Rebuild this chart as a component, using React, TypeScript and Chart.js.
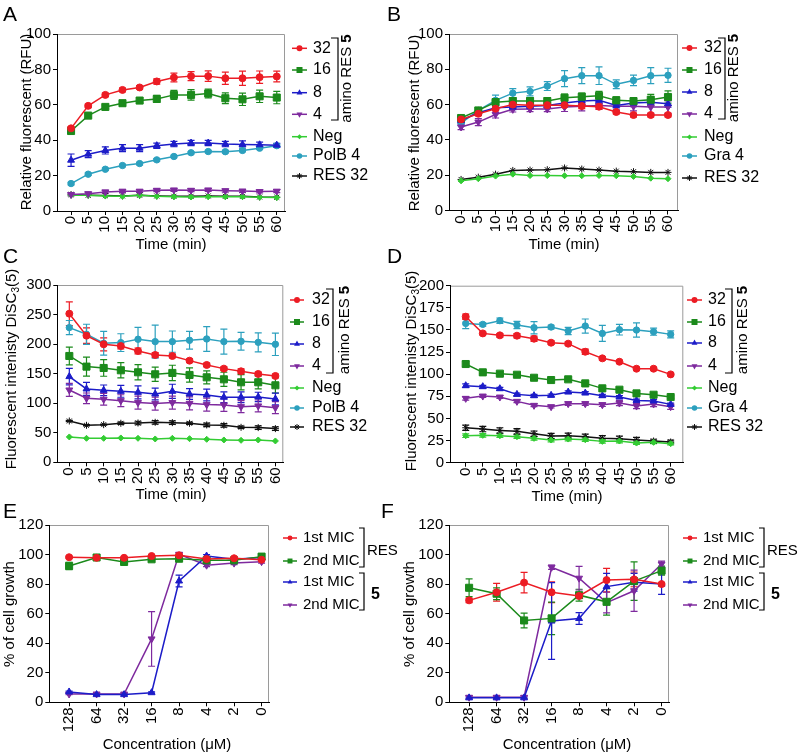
import React, { useEffect, useRef } from "react";
import { Chart, registerables } from "chart.js";

Chart.register(...registerables);

const FONT = "'Liberation Sans', Arial, Helvetica, sans-serif";

// ---------- shared axes ----------
const TIME = [0, 5, 10, 15, 20, 25, 30, 35, 40, 45, 50, 55, 60];
const CONC_LABELS = ["128", "64", "32", "16", "8", "4", "2", "0"];
const CONC_IDX = [0, 1, 2, 3, 4, 5, 6, 7];

// ---------- panel A ----------
const A_32 = [46.7, 59.4, 65.6, 68.4, 69.8, 73.2, 75.4, 76.2, 76.2, 75.0, 75.0, 75.6, 76.0];
const A_32_ERR = [1, 1, 1, 1, 1, 1.5, 2.5, 2.5, 3, 3.5, 4, 3.5, 3];
const A_16 = [45.2, 53.9, 58.8, 60.9, 62.4, 63.3, 65.6, 65.6, 66.4, 63.7, 63.1, 64.8, 64.1];
const A_16_ERR = [1, 1, 1, 1.5, 1.5, 2, 2.5, 3, 2.5, 3, 3.5, 3.5, 3.5];
const A_8 = [28.7, 32.1, 34.2, 35.5, 35.5, 36.9, 37.8, 38.4, 38.4, 37.8, 37.6, 37.4, 37.2];
const A_8_ERR = [3.5, 2, 2, 2, 2, 1.5, 1.5, 1.5, 1.5, 1.5, 2, 1.5, 1];
const A_4 = [9.3, 9.8, 10.8, 11.2, 11.2, 11.7, 11.9, 11.7, 11.9, 11.5, 11.3, 11.0, 11.2];
const A_4_ERR = [0.8, 0.8, 0.8, 0.8, 0.8, 0.8, 0.8, 0.8, 0.8, 0.8, 0.8, 0.8, 0.8];
const A_NEG = [8.9, 8.9, 8.5, 8.3, 8.9, 8.3, 8.1, 7.9, 8.1, 8.1, 8.1, 7.8, 7.6];
const A_POLB = [15.5, 20.8, 23.6, 25.7, 26.8, 28.9, 30.8, 32.9, 33.6, 33.5, 34.2, 35.5, 36.9];
const A_POLB_ERR = [0.7, 0.7, 0.7, 0.7, 0.7, 0.7, 0.7, 0.7, 0.7, 0.7, 0.7, 0.7, 0.7];
const A_RES = [9.3, 8.9, 8.7, 8.5, 8.9, 8.5, 8.3, 8.3, 8.5, 8.3, 8.3, 7.9, 7.8];

// ---------- panel B ----------
const B_32 = [51.6, 54.8, 57.7, 60.0, 59.7, 59.7, 59.7, 59.2, 58.8, 55.8, 54.1, 54.1, 54.1];
const B_32_ERR = [1, 1, 1, 1, 1, 1, 1, 1.5, 1.5, 1, 1, 1, 1];
const B_16 = [52.4, 56.7, 61.4, 62.0, 62.0, 62.0, 63.9, 64.5, 65.0, 62.4, 62.0, 62.8, 64.3];
const B_16_ERR = [1, 1.5, 2, 2, 2, 2, 2, 2, 2.5, 2, 2, 3, 3.5];
const B_8 = [51.0, 55.4, 58.2, 58.6, 59.0, 59.5, 60.9, 62.0, 62.4, 59.5, 60.9, 61.4, 60.5];
const B_8_ERR = [1.5, 1.5, 1.5, 1.5, 1.5, 1.5, 2, 2, 2, 2, 2, 2, 2];
const B_4 = [47.3, 50.1, 54.4, 57.3, 57.5, 57.5, 58.6, 59.0, 59.5, 59.0, 59.0, 58.6, 58.6];
const B_4_ERR = [1.5, 2, 2, 1.5, 1.5, 1.5, 2.5, 2.5, 2, 2.5, 2.5, 3.5, 3.5];
const B_NEG = [16.8, 18.0, 19.5, 20.6, 19.8, 19.8, 19.7, 19.7, 19.8, 19.7, 19.3, 18.3, 18.0];
const B_GRA = [49.5, 56.7, 62.4, 66.5, 67.5, 70.5, 74.7, 76.4, 76.4, 71.5, 73.7, 76.4, 76.6];
const B_GRA_ERR = [1.5, 1.5, 3, 2.5, 2.5, 2.5, 4.5, 4.5, 5, 2.5, 3, 4.5, 4];
const B_RES = [17.6, 18.9, 20.6, 22.7, 22.9, 23.1, 24.1, 23.5, 22.9, 22.3, 22.0, 21.6, 21.6];

// ---------- panel C ----------
const C_32 = [251.5, 214.3, 199.7, 196.8, 188.4, 181.6, 179.9, 172.0, 164.7, 158.5, 154.0, 149.5, 146.1];
const C_32_ERR = [20, 13, 11, 5, 5, 4, 3, 3, 3, 3, 4, 3, 3];
const C_16 = [179.9, 161.9, 159.6, 155.7, 152.3, 148.9, 151.2, 147.8, 143.8, 140.4, 135.4, 135.4, 130.3];
const C_16_ERR = [15, 16, 14, 13, 13, 12, 13, 12, 11, 12, 13, 11, 13];
const C_8 = [145.0, 124.1, 121.8, 120.1, 118.4, 115.6, 120.1, 115.6, 113.9, 110.0, 110.0, 110.5, 107.2];
const C_8_ERR = [14, 11, 9, 10, 11, 10, 12, 9, 10, 9, 9, 8, 10];
const C_4 = [122.4, 108.3, 106.6, 104.3, 101.0, 99.3, 101.0, 99.8, 97.6, 97.1, 94.2, 95.4, 92.5];
const C_4_ERR = [11, 9, 10, 10, 11, 11, 11, 11, 11, 11, 10, 10, 10];
const C_NEG = [42.9, 40.6, 40.6, 41.2, 40.6, 39.5, 40.6, 40.0, 38.9, 37.8, 37.2, 37.8, 36.1];
const C_POLB = [227.9, 216.6, 201.4, 202.5, 208.2, 204.2, 204.2, 206.4, 208.7, 204.2, 204.7, 203.0, 199.7];
const C_POLB_ERR = [12, 17, 20, 15, 20, 28, 18, 15, 21, 21, 15, 16, 19];
const C_RES = [69.9, 62.6, 63.7, 66.0, 66.5, 67.7, 67.1, 66.0, 63.2, 62.6, 59.2, 58.7, 57.0];
const C_RES_ERR = [1, 1, 1, 2, 3, 3, 3, 2, 3, 3, 2, 3, 3];

// ---------- panel D ----------
const D_32 = [165.0, 146.1, 143.9, 143.5, 140.1, 135.6, 134.5, 125.4, 117.9, 114.1, 106.2, 106.2, 99.8];
const D_32_ERR = [3, 1.5, 2, 2.5, 3, 2, 2, 3, 2, 1.5, 1.5, 1.5, 1.5];
const D_16 = [111.5, 102.1, 100.6, 99.4, 96.0, 93.4, 94.2, 89.6, 84.0, 82.5, 78.3, 76.8, 74.2];
const D_16_ERR = [3, 1.5, 1.5, 1.5, 1.5, 1.5, 1.5, 1.5, 1.5, 1.5, 1.5, 1.5, 1.5];
const D_8 = [87.0, 85.9, 83.6, 77.2, 75.7, 76.1, 79.8, 78.7, 75.7, 74.2, 70.4, 69.7, 65.9];
const D_8_ERR = [2, 1.5, 1.5, 1.5, 1.5, 1.5, 1.5, 1.5, 1.5, 1.5, 1.5, 1.5, 1.5];
const D_4 = [72.7, 75.3, 74.2, 69.3, 64.8, 63.3, 66.7, 66.7, 65.5, 67.4, 64.0, 66.3, 63.3];
const D_4_ERR = [2, 1.5, 1.5, 1.5, 1.5, 1.5, 2, 2, 2, 3, 3, 3, 3];
const D_NEG = [30.5, 30.9, 30.5, 29.4, 27.5, 25.6, 26.7, 26.0, 24.1, 24.5, 22.2, 23.0, 21.5];
const D_NEG_ERR = [2, 2, 2, 2, 2, 2, 2, 2, 2, 2, 1.5, 1.5, 1.5];
const D_GRA = [157.4, 156.3, 160.5, 155.6, 152.5, 153.3, 148.8, 154.4, 146.1, 150.3, 149.9, 148.0, 145.0];
const D_GRA_ERR = [6, 2, 3, 4, 7, 2, 4, 8, 9, 6, 8, 4, 4];
const D_RES = [39.5, 38.0, 36.5, 35.4, 32.8, 30.1, 30.5, 29.4, 27.5, 27.1, 25.6, 24.5, 23.4];
const D_RES_ERR = [3, 3, 3, 3, 3, 3, 3, 3, 3, 3, 3, 2, 2];

// ---------- panel E ----------
const E_RES1 = [98.2, 97.8, 97.8, 99.0, 99.5, 97.0, 97.5, 96.5];
const E_RES1_ERR = [0.8, 0.8, 0.8, 0.8, 0.8, 0.8, 0.8, 0.8];
const E_RES2 = [92.3, 98.0, 95.0, 96.8, 97.2, 96.1, 96.1, 98.6];
const E_RES2_ERR = [2.5, 1, 1, 1, 1, 1, 1, 1];
const E_C1 = [7.0, 5.2, 5.2, 6.5, 82.1, 99.0, 96.8, 98.0];
const E_C1_ERR = [0.5, 0.5, 0.5, 0.5, 4, 1, 1, 1];
const E_C2 = [5.6, 5.6, 5.6, 42.9, 100.2, 92.8, 94.2, 95.2];
const E_C2_ERR = [0.5, 0.5, 0.5, 18.5, 1, 1, 1, 1];

// ---------- panel F ----------
const F_RES1 = [69.0, 74.5, 81.0, 74.5, 72.0, 82.7, 83.2, 80.0];
const F_RES1_ERR = [1.5, 6, 7, 7, 1.5, 8, 5, 1];
const F_RES2 = [77.5, 73.5, 55.4, 56.8, 72.5, 68.0, 82.0, 89.1];
const F_RES2_ERR = [6, 4, 5, 11, 4, 9, 13, 3];
const F_C1 = [3.0, 3.0, 3.0, 55.0, 56.7, 78.3, 81.2, 80.0];
const F_C1_ERR = [0.5, 0.5, 0.5, 26, 4, 9, 6, 7];
const F_C2 = [3.4, 3.4, 3.4, 91.4, 84.0, 67.5, 75.5, 93.6];
const F_C2_ERR = [1, 1, 1, 1.5, 8, 7, 14, 2];

// ---------- styles ----------
const RED = "#ec1c24";
const GREEN = "#1b8a1b";
const BLUE = "#1c1cc8";
const PURPLE = "#7e2a9e";
const LGREEN = "#33cc33";
const TEAL = "#2ca0be";
const BLACK = "#111111";

type Series = {
  label: string;
  values: number[];
  err?: number[];
  color: string;
  style: string;
  radius: number;
  rotation?: number;
};

const S32 = (v: number[], e?: number[]): Series => ({ label: "32", values: v, err: e, color: RED, style: "circle", radius: 3.5 });
const S16 = (v: number[], e?: number[]): Series => ({ label: "16", values: v, err: e, color: GREEN, style: "rect", radius: 5 });
const S8 = (v: number[], e?: number[]): Series => ({ label: "8", values: v, err: e, color: BLUE, style: "triangle", radius: 4 });
const S4 = (v: number[], e?: number[]): Series => ({ label: "4", values: v, err: e, color: PURPLE, style: "triangle", radius: 4, rotation: 180 });
const SNEG = (v: number[], e?: number[]): Series => ({ label: "Neg", values: v, err: e, color: LGREEN, style: "rectRot", radius: 3 });
const SCTRL = (name: string, v: number[], e?: number[]): Series => ({ label: name, values: v, err: e, color: TEAL, style: "circle", radius: 3.2 });
const SRES = (v: number[], e?: number[]): Series => ({ label: "RES 32", values: v, err: e, color: BLACK, style: "star", radius: 3.5 });

type Part = { s: string; size: number; bold?: boolean; dy?: number };

type Panel = {
  plot: [number, number, number, number];
  xs: number[];
  xMin: number;
  xMax: number;
  xLabels?: string[];
  yMin: number;
  yMax: number;
  yStep: number;
  series: Series[];
  letter: [string, number, number];
  yTitle: [Part[], number, number];
  xTitle: [string, number, number];
  legendRows: number[];
  legendX: [number, number, number];
  legendSize: number;
  legendMarkerScale: number;
  decor: (ctx: CanvasRenderingContext2D) => void;
};

function drawMarker(ctx: CanvasRenderingContext2D, style: string, x: number, y: number, r: number, color: string, rotation = 0) {
  ctx.save();
  ctx.fillStyle = color;
  ctx.strokeStyle = color;
  ctx.lineWidth = 1;
  ctx.beginPath();
  if (style === "circle") {
    ctx.arc(x, y, r, 0, Math.PI * 2);
    ctx.fill();
  } else if (style === "rect") {
    const s = r * Math.SQRT1_2;
    ctx.rect(x - s, y - s, 2 * s, 2 * s);
    ctx.fill();
  } else if (style === "triangle") {
    let a = (rotation * Math.PI) / 180;
    ctx.moveTo(x + Math.sin(a) * r, y - Math.cos(a) * r);
    a += (2 * Math.PI) / 3;
    ctx.lineTo(x + Math.sin(a) * r, y - Math.cos(a) * r);
    a += (2 * Math.PI) / 3;
    ctx.lineTo(x + Math.sin(a) * r, y - Math.cos(a) * r);
    ctx.closePath();
    ctx.fill();
  } else if (style === "rectRot") {
    ctx.moveTo(x, y - r);
    ctx.lineTo(x + r, y);
    ctx.lineTo(x, y + r);
    ctx.lineTo(x - r, y);
    ctx.closePath();
    ctx.fill();
  } else if (style === "star") {
    const d = r * Math.SQRT1_2;
    ctx.moveTo(x - r, y);
    ctx.lineTo(x + r, y);
    ctx.moveTo(x, y - r);
    ctx.lineTo(x, y + r);
    ctx.moveTo(x - d, y - d);
    ctx.lineTo(x + d, y + d);
    ctx.moveTo(x - d, y + d);
    ctx.lineTo(x + d, y - d);
    ctx.stroke();
  }
  ctx.restore();
}

function font(size: number, bold = false) {
  return `${bold ? "bold " : ""}${size}px ${FONT}`;
}

function hText(ctx: CanvasRenderingContext2D, s: string, x: number, y: number, size: number, align: CanvasTextAlign = "center", bold = false) {
  ctx.save();
  ctx.fillStyle = "#000";
  ctx.font = font(size, bold);
  ctx.textAlign = align;
  ctx.textBaseline = "middle";
  ctx.fillText(s, x, y);
  ctx.restore();
}

function vText(ctx: CanvasRenderingContext2D, parts: Part[], cx: number, cy: number) {
  ctx.save();
  ctx.fillStyle = "#000";
  ctx.translate(cx, cy);
  ctx.rotate(-Math.PI / 2);
  ctx.textBaseline = "middle";
  ctx.textAlign = "left";
  let total = 0;
  const widths = parts.map((p) => {
    ctx.font = font(p.size, p.bold);
    const w = ctx.measureText(p.s).width;
    total += w;
    return w;
  });
  let x = -total / 2;
  parts.forEach((p, i) => {
    ctx.font = font(p.size, p.bold);
    ctx.fillText(p.s, x, p.dy || 0);
    x += widths[i];
  });
  ctx.restore();
}

function bracket(ctx: CanvasRenderingContext2D, x: number, y1: number, y2: number, tick: number) {
  ctx.save();
  ctx.strokeStyle = "#000";
  ctx.lineWidth = 1.2;
  ctx.beginPath();
  ctx.moveTo(x - tick, y1);
  ctx.lineTo(x, y1);
  ctx.lineTo(x, y2);
  ctx.lineTo(x - tick, y2);
  ctx.stroke();
  ctx.restore();
}

const AMINO: Part[] = [
  { s: "amino RES ", size: 15 },
  { s: "5", size: 15, bold: true },
];
const RFU: Part[] = [{ s: "Relative fluorescent (RFU)", size: 15 }];
const DISC: Part[] = [
  { s: "Fluorescent intenisty DiSC", size: 15 },
  { s: "3", size: 10, dy: 4 },
  { s: "(5)", size: 15 },
];
const GROWTH: Part[] = [{ s: "% of cell growth", size: 15 }];

const PANELS: Panel[] = [
  {
    plot: [57, 34, 285, 211],
    xs: TIME, xMin: -4.1, xMax: 62.4,
    yMin: 0, yMax: 100, yStep: 20,
    series: [S32(A_32, A_32_ERR), S16(A_16, A_16_ERR), S8(A_8, A_8_ERR), S4(A_4, A_4_ERR), SNEG(A_NEG), SCTRL("PolB 4", A_POLB, A_POLB_ERR), SRES(A_RES)],
    letter: ["A", 3, 15], yTitle: [RFU, 27, 122], xTitle: ["Time (min)", 171, 245],
    legendRows: [48.3, 70, 92.7, 114.3, 136.7, 156, 176], legendX: [292, 307, 313], legendSize: 16, legendMarkerScale: 0.85,
    decor: (ctx) => { bracket(ctx, 338, 38, 120, 7); vText(ctx, AMINO, 347, 78.5); },
  },
  {
    plot: [449, 34, 678, 210.5],
    xs: TIME, xMin: -3.5, xMax: 62.9,
    yMin: 0, yMax: 100, yStep: 20,
    series: [S32(B_32, B_32_ERR), S16(B_16, B_16_ERR), S8(B_8, B_8_ERR), S4(B_4, B_4_ERR), SNEG(B_NEG), SCTRL("Gra 4", B_GRA, B_GRA_ERR), SRES(B_RES)],
    letter: ["B", 387, 15], yTitle: [RFU, 415, 123], xTitle: ["Time (min)", 564, 245],
    legendRows: [48, 70, 92, 114, 137, 156, 178], legendX: [682, 697, 704], legendSize: 16, legendMarkerScale: 0.85,
    decor: (ctx) => { bracket(ctx, 725, 38, 119, 7); vText(ctx, AMINO, 734, 78); },
  },
  {
    plot: [57.3, 285, 283.3, 462.3],
    xs: TIME, xMin: -3.5, xMax: 62.3,
    yMin: 0, yMax: 300, yStep: 50,
    series: [S32(C_32, C_32_ERR), S16(C_16, C_16_ERR), S8(C_8, C_8_ERR), S4(C_4, C_4_ERR), SNEG(C_NEG), SCTRL("PolB 4", C_POLB, C_POLB_ERR), SRES(C_RES, C_RES_ERR)],
    letter: ["C", 3, 257], yTitle: [DISC, 12, 369], xTitle: ["Time (min)", 171, 495],
    legendRows: [300, 322, 344, 366, 388, 408, 427], legendX: [290, 304, 312], legendSize: 16, legendMarkerScale: 0.85,
    decor: (ctx) => { bracket(ctx, 333, 289, 373, 7); vText(ctx, AMINO, 345, 330); },
  },
  {
    plot: [450, 285.7, 683.3, 462.7],
    xs: TIME, xMin: -4.6, xMax: 63.7,
    yMin: 0, yMax: 200, yStep: 25,
    series: [S32(D_32, D_32_ERR), S16(D_16, D_16_ERR), S8(D_8, D_8_ERR), S4(D_4, D_4_ERR), SNEG(D_NEG, D_NEG_ERR), SCTRL("Gra 4", D_GRA, D_GRA_ERR), SRES(D_RES, D_RES_ERR)],
    letter: ["D", 387, 257], yTitle: [DISC, 412, 371], xTitle: ["Time (min)", 567, 497],
    legendRows: [300, 322, 343, 366, 388, 408, 427], legendX: [687, 702, 708], legendSize: 16, legendMarkerScale: 0.85,
    decor: (ctx) => { bracket(ctx, 732, 289, 373, 7); vText(ctx, AMINO, 743, 330); },
  },
  {
    plot: [49.3, 525, 269, 702.3],
    xs: CONC_IDX, xMin: -0.72, xMax: 7.27, xLabels: CONC_LABELS,
    yMin: 0, yMax: 120, yStep: 20,
    series: [
      { label: "1st MIC", values: E_RES1, err: E_RES1_ERR, color: RED, style: "circle", radius: 3.5 },
      { label: "2nd MIC", values: E_RES2, err: E_RES2_ERR, color: GREEN, style: "rect", radius: 5 },
      { label: "1st MIC", values: E_C1, err: E_C1_ERR, color: BLUE, style: "triangle", radius: 4 },
      { label: "2nd MIC", values: E_C2, err: E_C2_ERR, color: PURPLE, style: "triangle", radius: 4, rotation: 180 },
    ],
    letter: ["E", 3, 512], yTitle: [GROWTH, 10, 614], xTitle: ["Concentration (\u03bcM)", 167, 745],
    legendRows: [538, 561, 582, 605], legendX: [283, 297, 303], legendSize: 15, legendMarkerScale: 0.7,
    decor: (ctx) => {
      bracket(ctx, 364, 528, 567, 5);
      bracket(ctx, 364, 573, 610, 5);
      hText(ctx, "RES", 367, 551, 15, "left");
      hText(ctx, "5", 371, 595, 16, "left", true);
    },
  },
  {
    plot: [449.3, 525, 669, 702.3],
    xs: CONC_IDX, xMin: -0.72, xMax: 7.27, xLabels: CONC_LABELS,
    yMin: 0, yMax: 120, yStep: 20,
    series: [
      { label: "1st MIC", values: F_RES1, err: F_RES1_ERR, color: RED, style: "circle", radius: 3.5 },
      { label: "2nd MIC", values: F_RES2, err: F_RES2_ERR, color: GREEN, style: "rect", radius: 5 },
      { label: "1st MIC", values: F_C1, err: F_C1_ERR, color: BLUE, style: "triangle", radius: 4 },
      { label: "2nd MIC", values: F_C2, err: F_C2_ERR, color: PURPLE, style: "triangle", radius: 4, rotation: 180 },
    ],
    letter: ["F", 381, 512], yTitle: [GROWTH, 410, 614], xTitle: ["Concentration (\u03bcM)", 567, 745],
    legendRows: [538, 561, 582, 605], legendX: [683, 697, 703], legendSize: 15, legendMarkerScale: 0.7,
    decor: (ctx) => {
      bracket(ctx, 764, 528, 567, 5);
      bracket(ctx, 764, 573, 610, 5);
      hText(ctx, "RES", 767, 551, 15, "left");
      hText(ctx, "5", 771, 595, 16, "left", true);
    },
  },
];

const YW = 40;
const XH = 30;

function buildChart(canvas: HTMLCanvasElement, p: Panel) {
  const [l, t, r, b] = p.plot;
  const datasets = p.series.map((s) => ({
    label: s.label,
    data: p.xs.map((x, i) => ({ x, y: s.values[i] })),
    borderColor: s.color,
    backgroundColor: s.color,
    pointBackgroundColor: s.color,
    pointBorderColor: s.color,
    borderWidth: 1.5,
    pointRadius: s.radius,
    pointStyle: s.style,
    pointRotation: s.rotation || 0,
    pointBorderWidth: 1,
    tension: 0,
    err: s.err,
  }));

  const errPlugin = {
    id: "errbars",
    beforeDatasetsDraw(chart: any) {
      const ctx = chart.ctx;
      const ys = chart.scales.y;
      chart.data.datasets.forEach((ds: any, di: number) => {
        if (!ds.err) return;
        const meta = chart.getDatasetMeta(di);
        ctx.save();
        ctx.strokeStyle = ds.borderColor;
        ctx.lineWidth = 1.2;
        meta.data.forEach((el: any, i: number) => {
          const v = ds.data[i].y;
          const e = ds.err[i];
          const y1 = ys.getPixelForValue(v + e);
          const y2 = ys.getPixelForValue(v - e);
          const x = el.x;
          ctx.beginPath();
          ctx.moveTo(x, y1);
          ctx.lineTo(x, y2);
          ctx.moveTo(x - 3.5, y1);
          ctx.lineTo(x + 3.5, y1);
          ctx.moveTo(x - 3.5, y2);
          ctx.lineTo(x + 3.5, y2);
          ctx.stroke();
        });
        ctx.restore();
      });
    },
  };

  const decorPlugin = {
    id: "decor",
    beforeDraw(chart: any) {
      const ctx = chart.ctx;
      const a = chart.chartArea;
      ctx.save();
      ctx.strokeStyle = "#9a9a9a";
      ctx.lineWidth = 1;
      ctx.beginPath();
      ctx.moveTo(a.left, a.top + 0.5);
      ctx.lineTo(a.right - 0.5, a.top + 0.5);
      ctx.lineTo(a.right - 0.5, a.bottom);
      ctx.stroke();
      ctx.restore();
    },
    afterDraw(chart: any) {
      const ctx = chart.ctx as CanvasRenderingContext2D;
      hText(ctx, p.letter[0], p.letter[1], p.letter[2], 21, "left");
      vText(ctx, p.yTitle[0], p.yTitle[1], p.yTitle[2]);
      hText(ctx, p.xTitle[0], p.xTitle[1], p.xTitle[2], 15);
      const [x1, x2, tx] = p.legendX;
      p.series.forEach((s, i) => {
        const y = p.legendRows[i];
        ctx.save();
        ctx.strokeStyle = s.color;
        ctx.lineWidth = 1.5;
        ctx.beginPath();
        ctx.moveTo(x1, y);
        ctx.lineTo(x2, y);
        ctx.stroke();
        ctx.restore();
        drawMarker(ctx, s.style, (x1 + x2) / 2, y, s.radius * p.legendMarkerScale, s.color, s.rotation || 0);
        hText(ctx, s.label, tx, y, p.legendSize, "left");
      });
      p.decor(ctx);
    },
  };

  return new Chart(canvas, {
    type: "line",
    data: { datasets } as any,
    options: {
      animation: false,
      responsive: false,
      maintainAspectRatio: false,
      events: [],
      layout: { padding: { left: l - YW, top: t, right: 800 - r, bottom: 756 - b - XH } },
      plugins: { legend: { display: false }, tooltip: { enabled: false }, title: { display: false } },
      scales: {
        x: {
          type: "linear",
          min: p.xMin,
          max: p.xMax,
          afterBuildTicks: (s: any) => {
            s.ticks = p.xs.map((v) => ({ value: v }));
          },
          afterFit: (s: any) => {
            s.height = XH;
            s.paddingLeft = 0;
            s.paddingRight = 0;
          },
          ticks: {
            autoSkip: false,
            minRotation: 90,
            maxRotation: 90,
            color: "#000",
            padding: 1,
            font: { family: FONT, size: 15 },
            callback: (v: any) => (p.xLabels ? p.xLabels[Math.round(v)] : String(v)),
          },
          grid: { drawOnChartArea: false, drawTicks: true, tickLength: 4, color: "#000", lineWidth: 1 },
          border: { color: "#000", width: 1 },
        },
        y: {
          type: "linear",
          min: p.yMin,
          max: p.yMax,
          afterFit: (s: any) => {
            s.width = YW;
            s.paddingTop = 0;
            s.paddingBottom = 0;
          },
          ticks: { stepSize: p.yStep, color: "#000", padding: 2, font: { family: FONT, size: 15 } },
          grid: { drawOnChartArea: false, drawTicks: true, tickLength: 4, color: "#000", lineWidth: 1 },
          border: { color: "#000", width: 1 },
        },
      },
    } as any,
    plugins: [decorPlugin, errPlugin],
  });
}

function PanelCanvas({ panel }: { panel: Panel }) {
  const ref = useRef<HTMLCanvasElement | null>(null);
  useEffect(() => {
    if (!ref.current) return;
    const chart = buildChart(ref.current, panel);
    return () => chart.destroy();
  }, [panel]);
  return (
    <canvas
      ref={ref}
      width={800}
      height={756}
      style={{ position: "absolute", left: 0, top: 0, width: 800, height: 756, pointerEvents: "none" }}
    />
  );
}

export default function App() {
  return (
    <div style={{ position: "absolute", left: 0, top: 0, width: 800, height: 756, background: "#fff", overflow: "hidden" }}>
      {PANELS.map((p, i) => (
        <PanelCanvas key={i} panel={p} />
      ))}
    </div>
  );
}
